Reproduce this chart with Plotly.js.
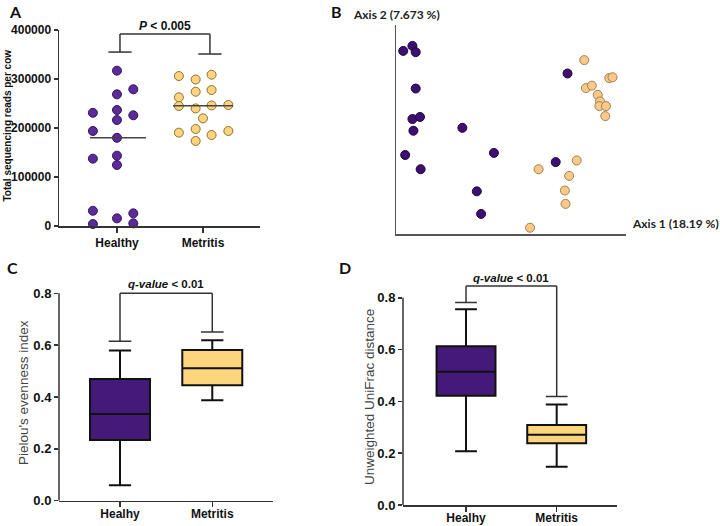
<!DOCTYPE html>
<html>
<head>
<meta charset="utf-8">
<script src="https://cdn.plot.ly/plotly-3.0.1.min.js"></script>
<style>html,body{margin:0;padding:0;background:#fff;}#chart{width:720px;height:526px;}</style>
</head>
<body>
<div id="chart"></div>
<script>
// ---------- DATA ----------
const groupsA = ['Healthy', 'Metritis'];
const groupsBox = ['Healhy', 'Metritis'];

// Panel A: total sequencing reads per cow
const healthyReads = [317000, 279000, 268700, 231000, 236700, 225900, 216300, 193900, 180000, 143500, 137400, 124500, 31000, 25800, 15600, 4000, 5400];
const healthyJitter = [0, 0.19, 0, -0.28, 0, 0.19, 0, -0.28, 0, 0, -0.28, 0, -0.28, 0.19, 0, -0.28, 0.19];
const metritisReads = [306000, 299000, 308800, 274000, 277500, 262600, 244900, 240000, 246000, 247000, 219700, 190500, 198000, 185700, 193900, 173500];
const metritisJitter = [-0.28, -0.085, 0.10, -0.085, 0.10, -0.28, -0.28, -0.085, 0.10, 0.295, 0, -0.28, -0.085, 0.10, 0.295, -0.085];
const readsTicks = [0, 100000, 200000, 300000, 400000];
const readsTickText = ['0', '100000', '200000', '300000', '400000'];

// Panel B: PCoA (unweighted UniFrac)
const healthyAxis1 = [-0.278, -0.250, -0.240, -0.240, -0.250, -0.227, -0.247, -0.098, -0.272, -0.002, -0.225, -0.054, -0.041, 0.222, 0.186];
const healthyAxis2 = [0.188, 0.200, 0.185, 0.098, 0.025, 0.030, -0.003, 0.004, -0.061, -0.056, -0.095, -0.148, -0.202, 0.134, -0.078];
const metritisAxis1 = [0.273, 0.349, 0.359, 0.278, 0.296, 0.314, 0.321, 0.319, 0.339, 0.337, 0.250, 0.134, 0.227, 0.214, 0.216, 0.108];
const metritisAxis2 = [0.166, 0.123, 0.125, 0.099, 0.105, 0.083, 0.067, 0.056, 0.056, 0.032, -0.074, -0.095, -0.111, -0.146, -0.178, -0.235];

// Panel C: Pielou's evenness [lower whisker, q1, median, q3, upper whisker]
const evennessHealthy = [0.060, 0.234, 0.334, 0.469, 0.579];
const evennessMetritis = [0.387, 0.445, 0.511, 0.581, 0.619];
// Panel D: Unweighted UniFrac distance
const unifracHealthy = [0.207, 0.422, 0.514, 0.613, 0.756];
const unifracMetritis = [0.148, 0.238, 0.271, 0.309, 0.388];
const boxTicks = [0, 0.2, 0.4, 0.6, 0.8];
const boxTickText = ['0.0', '0.2', '0.4', '0.6', '0.8'];

// significance brackets: [left cap y, right cap y, top y]
const sigA = [355000, 351000, 391800];
const sigC = [0.615, 0.651, 0.80];
const sigD = [0.782, 0.419, 0.845];

// ---------- STYLE ----------
const PURPLE_A = '#5b2b99', PURPLE_A_LINE = '#34155f';
const TAN = '#fdd47c', TAN_LINE = '#8f7038';
const PURPLE_B = '#3d0f6e', PURPLE_B_LINE = '#220545';
const TAN_B = '#f9c98a', TAN_B_LINE = '#a3804f';
const BOX_PURPLE = '#431a78', BOX_TAN = '#fdd57c';
const AX = '#333';
const ARIAL = 'Liberation Sans, Arial, sans-serif';
const CAL = 'Lato, Carlito, Calibri, sans-serif';

function median(a) {
  const s = a.slice().sort((p, q) => p - q);
  const m = Math.floor(s.length / 2);
  return s.length % 2 ? s[m] : (s[m - 1] + s[m]) / 2;
}

const traces = [];
// Panel A scatter
traces.push({
  type: 'scatter', mode: 'markers', xaxis: 'x', yaxis: 'y', cliponaxis: false,
  x: healthyReads.map((v, i) => 0 + healthyJitter[i]), y: healthyReads,
  marker: {size: 9, color: PURPLE_A, line: {color: PURPLE_A_LINE, width: 1}}, hoverinfo: 'y'
});
traces.push({
  type: 'scatter', mode: 'markers', xaxis: 'x', yaxis: 'y', cliponaxis: false,
  x: metritisReads.map((v, i) => 1 + metritisJitter[i]), y: metritisReads,
  marker: {size: 9, color: TAN, line: {color: TAN_LINE, width: 1}}, hoverinfo: 'y'
});
// Panel B scatter
traces.push({
  type: 'scatter', mode: 'markers', xaxis: 'x2', yaxis: 'y2', cliponaxis: false,
  x: healthyAxis1, y: healthyAxis2,
  marker: {size: 9, color: PURPLE_B, line: {color: PURPLE_B_LINE, width: 1}}
});
traces.push({
  type: 'scatter', mode: 'markers', xaxis: 'x2', yaxis: 'y2', cliponaxis: false,
  x: metritisAxis1, y: metritisAxis2,
  marker: {size: 9, color: TAN_B, line: {color: TAN_B_LINE, width: 1}}
});
// Box plots
function box(stats, pos, fill, xa, ya) {
  return {
    type: 'box', xaxis: xa, yaxis: ya, x: [pos],
    lowerfence: [stats[0]], q1: [stats[1]], median: [stats[2]], q3: [stats[3]], upperfence: [stats[4]],
    width: 0.65, whiskerwidth: 0.37, fillcolor: fill, boxpoints: false,
    line: {color: '#111', width: 2}
  };
}
traces.push(box(evennessHealthy, 0, BOX_PURPLE, 'x3', 'y3'));
traces.push(box(evennessMetritis, 1, BOX_TAN, 'x3', 'y3'));
traces.push(box(unifracHealthy, 0, BOX_PURPLE, 'x4', 'y4'));
traces.push(box(unifracMetritis, 1, BOX_TAN, 'x4', 'y4'));

// ---------- SHAPES ----------
const shapes = [];
const lineStyle = {color: AX, width: 1.5};
function seg(xa, ya, x0, y0, x1, y1, st) {
  shapes.push({type: 'line', xref: xa, yref: ya, x0: x0, y0: y0, x1: x1, y1: y1, line: st || lineStyle});
}
function bracket(xa, ya, xl, xr, sig, cap) {
  seg(xa, ya, xl - cap, sig[0], xl + cap, sig[0]);
  seg(xa, ya, xr - cap, sig[1], xr + cap, sig[1]);
  seg(xa, ya, xl, sig[0], xl, sig[2]);
  seg(xa, ya, xr, sig[1], xr, sig[2]);
  seg(xa, ya, xl, sig[2], xr, sig[2]);
}
// medians in panel A
const medStyle = {color: '#444', width: 1.5};
seg('x', 'y', -0.314, median(healthyReads), 0.337, median(healthyReads), medStyle);
seg('x', 'y', 1 - 0.349, median(metritisReads), 1 + 0.349, median(metritisReads), medStyle);
bracket('x', 'y', 0.035, 1.081, sigA, 0.135);
bracket('x3', 'y3', 0, 1, sigC, 0.123);
bracket('x4', 'y4', 0, 1, sigD, 0.12);
// y axis lines for C, D (stop at 0.8)
seg('x3 domain', 'y3', 0, 0, 0, 0.8, {color: AX, width: 1.5});
seg('x4 domain', 'y4', 0, 0, 0, 0.8, {color: AX, width: 1.5});

// ---------- ANNOTATIONS ----------
const ann = [];
function txt(text, x, y, opts) {
  ann.push(Object.assign({text: text, x: x, y: y, xref: 'paper', yref: 'paper', showarrow: false,
    xanchor: 'center', yanchor: 'middle',
    font: {family: ARIAL, size: 12, color: '#111'}}, opts || {}));
}
txt('<b>A</b>', 15 / 720, 1 - 12 / 526, {font: {family: CAL, size: 16, color: '#111'}});
txt('<b>B</b>', 336 / 720, 1 - 12 / 526, {font: {family: CAL, size: 16, color: '#111'}});
txt('<b>C</b>', 12 / 720, 1 - 267 / 526, {font: {family: CAL, size: 16, color: '#111'}});
txt('<b>D</b>', 345 / 720, 1 - 267 / 526, {font: {family: CAL, size: 16, color: '#111'}});
txt('<b>Axis 2 (7.673 %)</b>', 351 / 720, 1 - 15 / 526, {xanchor: 'left', font: {family: CAL, size: 12, color: '#222'}});
txt('<b>Axis 1 (18.19 %)</b>', 630 / 720, 1 - 223 / 526, {xanchor: 'left', font: {family: CAL, size: 12, color: '#222'}});
txt('<b>Total sequencing reads per cow</b>', 7.5 / 720, 1 - 126 / 526, {textangle: -90, font: {family: ARIAL, size: 10, color: '#111'}});
txt("Pielou's evenness index", 23 / 720, 1 - 393 / 526, {textangle: -90, font: {family: ARIAL, size: 13.5, color: '#444'}});
txt('Unweighted UniFrac distance', 369 / 720, 1 - 397 / 526, {textangle: -90, font: {family: ARIAL, size: 13.5, color: '#444'}});
// significance texts (anchored to bracket tops)
ann.push({text: '<b><i>P</i> < 0.005</b>', xref: 'x', yref: 'y', x: (0.035 + 1.081) / 2, y: sigA[2], yanchor: 'bottom', yshift: -1,
  showarrow: false, font: {family: ARIAL, size: 12, color: '#111'}});
ann.push({text: '<b><i>q-value</i> < 0.01</b>', xref: 'x3', yref: 'y3', x: 0.5, y: sigC[2], yanchor: 'bottom', yshift: 1,
  showarrow: false, font: {family: ARIAL, size: 11.5, color: '#111'}});
ann.push({text: '<b><i>q-value</i> < 0.01</b>', xref: 'x4', yref: 'y4', x: 0.5, y: sigD[2], yanchor: 'bottom', yshift: 0,
  showarrow: false, font: {family: ARIAL, size: 11.5, color: '#111'}});

// ---------- AXES ----------
const tickFontX = {family: ARIAL, size: 12, color: '#111', weight: 'bold'};
function catAxis(domain, range, labels, anchor, standoff) {
  return {domain: domain, range: range, anchor: anchor, tickmode: 'array', tickvals: [0, 1],
    ticktext: labels.map(l => '<b>' + l + '</b>'), ticks: 'outside', ticklen: 5, tickwidth: 1.5, tickcolor: AX,
    ticklabelstandoff: standoff,
    showline: true, linecolor: AX, linewidth: 1.5, showgrid: false, zeroline: false, tickfont: tickFontX, fixedrange: true};
}
function valAxis(domain, range, vals, labels, anchor, size, showline) {
  return {domain: domain, range: range, anchor: anchor, tickmode: 'array', tickvals: vals,
    ticktext: labels.map(l => '<b>' + l + '</b>'), ticks: 'outside', ticklen: 4, tickwidth: 1.5, tickcolor: AX,
    showline: showline, linecolor: AX, linewidth: 1.5, showgrid: false, zeroline: false,
    tickfont: {family: ARIAL, size: size, color: '#111', weight: 'bold'}, fixedrange: true};
}
const layout = {
  width: 720, height: 526, margin: {l: 0, r: 0, t: 0, b: 0},
  paper_bgcolor: '#fff', plot_bgcolor: 'rgba(0,0,0,0)', showlegend: false,
  xaxis: catAxis([59 / 720, 260 / 720], [-0.674, 1.663], groupsA, 'y', 0),
  yaxis: valAxis([1 - 226 / 526, 1 - 30 / 526], [0, 400000], readsTicks, readsTickText, 'x', 12, true),
  xaxis2: {domain: [396 / 720, 626 / 720], range: [-0.3, 0.4], anchor: 'y2', showticklabels: false, ticks: '',
    showline: true, linecolor: '#555', linewidth: 1.5, showgrid: false, zeroline: false},
  yaxis2: {domain: [1 - 234 / 526, 1 - 25 / 526], range: [-0.25, 0.25], anchor: 'x2', showticklabels: false, ticks: '',
    showline: true, linecolor: '#555', linewidth: 1.5, showgrid: false, zeroline: false},
  xaxis3: catAxis([59 / 720, 273 / 720], [-0.661, 1.658], groupsBox, 'y3', -4),
  yaxis3: valAxis([1 - 500.7 / 526, 0.4572], [0, 0.83], boxTicks, boxTickText, 'x3', 13, false),
  xaxis4: catAxis([403 / 720, 617 / 720], [-0.695, 1.665], groupsBox, 'y4', -4),
  yaxis4: valAxis([1 - 505 / 526, 0.4684], [0, 0.87], boxTicks, boxTickText, 'x4', 13, false),
  shapes: shapes, annotations: ann
};
Plotly.newPlot('chart', traces, layout, {displayModeBar: false, staticPlot: true});
</script>
</body>
</html>
